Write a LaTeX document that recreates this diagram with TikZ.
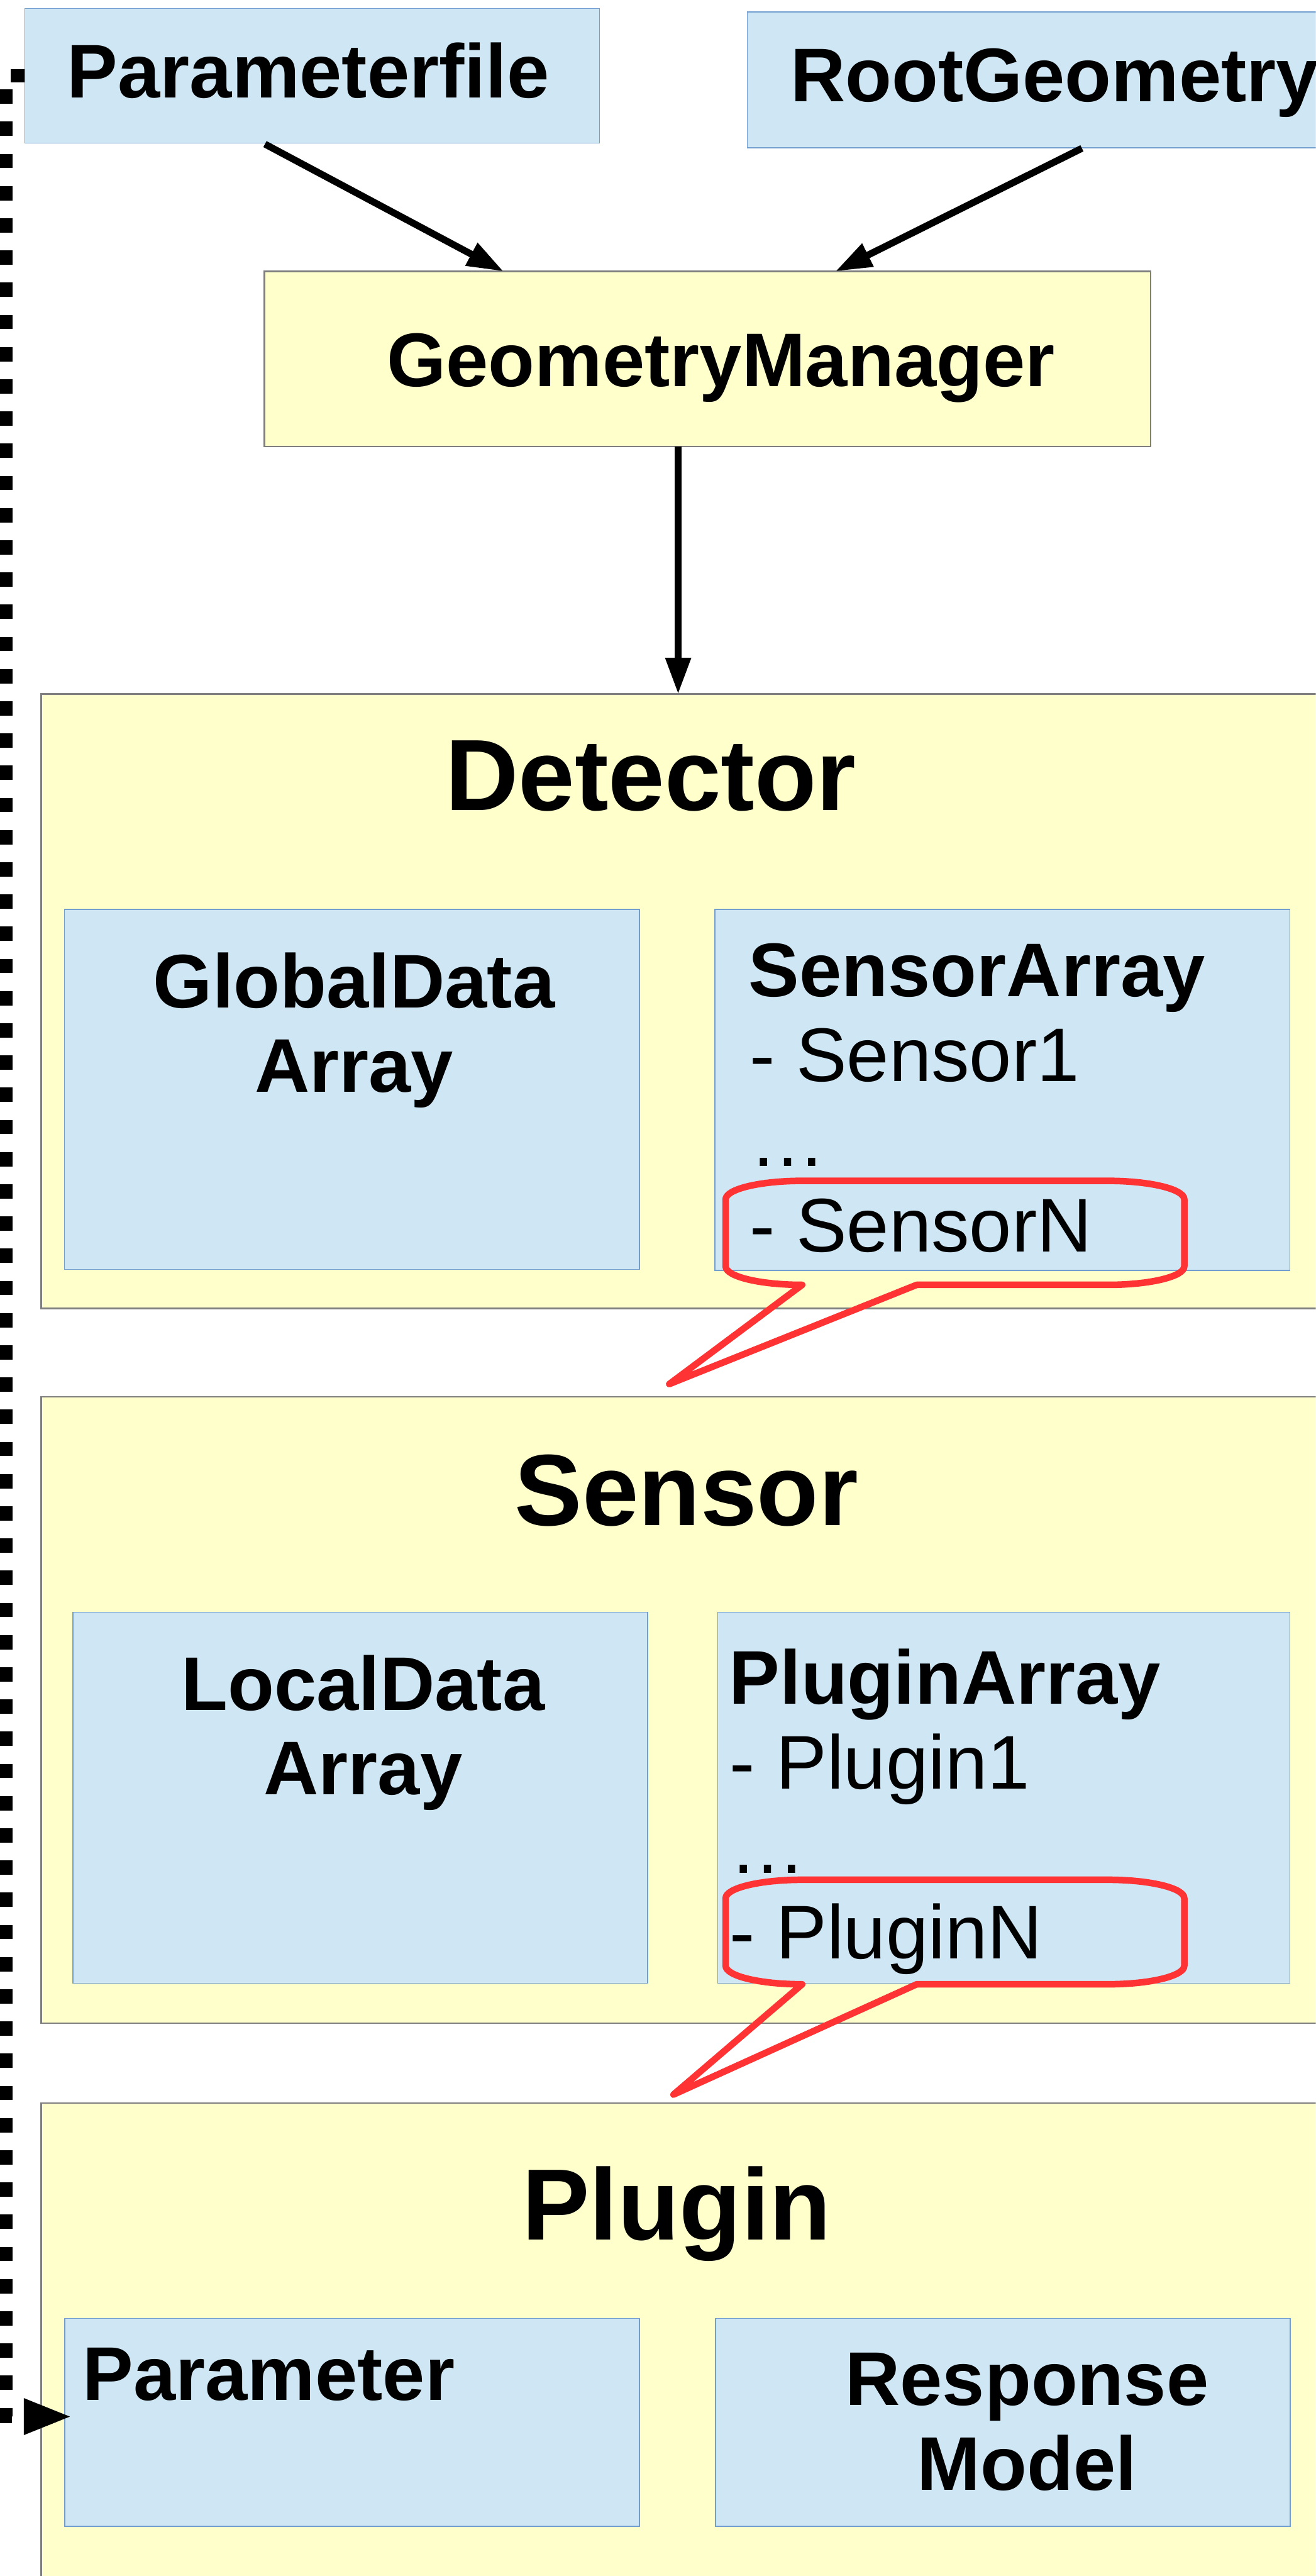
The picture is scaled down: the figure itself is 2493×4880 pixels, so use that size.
\documentclass[tikz,border=0pt]{standalone}
\usepackage{fontspec}
\setmainfont{Liberation Sans}
\usetikzlibrary{arrows.meta,calc}
\definecolor{boxblue}{HTML}{CFE7F5}
\definecolor{edgeblue}{HTML}{729FCF}
\definecolor{boxyellow}{HTML}{FFFFCC}
\definecolor{edgegray}{HTML}{7F7F7F}
\definecolor{callred}{HTML}{FF3333}
\begin{document}
\begin{tikzpicture}[x=0.1mm,y=-0.1mm,
  bluebox/.style={draw=edgeblue,fill=boxblue,line width=0.2mm,inner sep=0pt,outer sep=0pt,anchor=north west},
  yellowbox/.style={draw=edgegray,fill=boxyellow,line width=0.3mm,inner sep=0pt,outer sep=0pt,anchor=north west},
  lbl/.style={inner sep=0pt,font=\fontsize{41pt}{46pt}\selectfont\bfseries},
  item/.style={inner sep=0pt,anchor=base west,font=\fontsize{41pt}{46pt}\selectfont},
  title/.style={inner sep=0pt,anchor=base,font=\fontsize{54.6pt}{60pt}\selectfont\bfseries},
  flow/.style={line width=1.3mm,-{Triangle[length=6.9mm,width=4.6mm]}},
  refline/.style={line width=2.4mm,dash pattern=on 2.7mm off 3.4mm,-{Triangle[length=9.3mm,width=6.2mm]}},
  callout/.style={draw=callred,line width=1.25mm,line join=round}
]
\useasboundingbox (0,0) rectangle (2493,4880);
\clip (0,0) rectangle (2493,4880);

% boxes
\node[bluebox,minimum width=108.9mm,minimum height=25.5mm] (pf) at (47,16) {};
\node[bluebox,minimum width=114.4mm,minimum height=25.7mm] (rg) at (1416,23) {};
\node[yellowbox,minimum width=167.9mm,minimum height=33.2mm] (gm) at (501,514) {};
\node[yellowbox,minimum width=248.2mm,minimum height=116.4mm] (det) at (78,1315) {};
\node[bluebox,minimum width=109mm,minimum height=68.2mm] (gda) at (122,1723) {};
\node[bluebox,minimum width=108.9mm,minimum height=68.4mm] (sa) at (1355,1723) {};
\node[yellowbox,minimum width=248.2mm,minimum height=118.7mm] (sen) at (78,2646) {};
\node[bluebox,minimum width=108.9mm,minimum height=70.3mm] (lda) at (138,3054) {};
\node[bluebox,minimum width=108.4mm,minimum height=70.3mm] (pa) at (1360,3054) {};
\node[yellowbox,minimum width=248.2mm,minimum height=100mm] (plg) at (78,3984) {};
\node[bluebox,minimum width=108.9mm,minimum height=39.4mm] (par) at (123,4392) {};
\node[bluebox,minimum width=108.9mm,minimum height=39.4mm] (rm) at (1356,4392) {};

% texts
\node[lbl,anchor=base] (pft) at (584,185) {Parameterfile};
\node[lbl,anchor=base] (rgt) at (1998,192) {RootGeometry};
\node[lbl,anchor=base] (gmt) at (1366,732) {GeometryManager};
\node[title] (dett) at (1233,1535) {Detector};
\node[lbl,anchor=base] (gda1) at (671,1909) {GlobalData};
\node[lbl,anchor=base] (gda2) at (671,2069) {Array};
\node[lbl,anchor=base west] (sa0) at (1418,1888) {SensorArray};
\node[item] (sa1) at (1420,2049) {- Sensor1};
\node[item] (sa2) at (1420,2209) {…};
\node[item] (sa3) at (1420,2371) {- SensorN};
\node[title] (sent) at (1301,2890) {Sensor};
\node[lbl,anchor=base] (lda1) at (688,3240) {LocalData};
\node[lbl,anchor=base] (lda2) at (688,3400) {Array};
\node[lbl,anchor=base west] (pa0) at (1381,3228) {PluginArray};
\node[item] (pa1) at (1382,3389) {- Plugin1};
\node[item] (pa2) at (1382,3549) {…};
\node[item] (pa3) at (1382,3710) {- PluginN};
\node[title] (plgt) at (1282,4243) {Plugin};
\node[lbl,anchor=base west] (part) at (156,4547) {Parameter};
\node[lbl,anchor=base] (rm1) at (1946,4557) {Response};
\node[lbl,anchor=base] (rm2) at (1946,4717) {Model};

% connectors
\draw[flow] ($(pf.south west)+(455,2)$) -- ($(gm.north west)+(453,0)$);
\draw[flow] ($(rg.south west)+(634,1)$) -- ($(gm.north west)+(1082,0)$);
\draw[flow] ($(gm.south west)+(784,0)$) -- ($(det.north west)+(1207,0)$);
\draw[refline] (pf.west) -| ($(par.west)+(-111,-11)$) -- ($(par.west)+(15,-11)$);

% callouts
\coordinate (tip1) at (1268,2622);
\coordinate (tip2) at (1276,3968);
\draw[callout] (1520,2237) -- (2099,2237)
  arc[start angle=90,end angle=0,x radius=14.5mm,y radius=3.5mm] -- (2244,2399)
  arc[start angle=0,end angle=-90,x radius=14.5mm,y radius=3.5mm] -- (1737,2434) -- (tip1) -- (1520,2434)
  arc[start angle=270,end angle=180,x radius=14.5mm,y radius=3.5mm] -- (1375,2272)
  arc[start angle=180,end angle=90,x radius=14.5mm,y radius=3.5mm] -- cycle;
\draw[callout] (1520,3561) -- (2099,3561)
  arc[start angle=90,end angle=0,x radius=14.5mm,y radius=3.5mm] -- (2244,3724)
  arc[start angle=0,end angle=-90,x radius=14.5mm,y radius=3.5mm] -- (1737,3759) -- (tip2) -- (1520,3759)
  arc[start angle=270,end angle=180,x radius=14.5mm,y radius=3.5mm] -- (1375,3596)
  arc[start angle=180,end angle=90,x radius=14.5mm,y radius=3.5mm] -- cycle;
\end{tikzpicture}
\end{document}
